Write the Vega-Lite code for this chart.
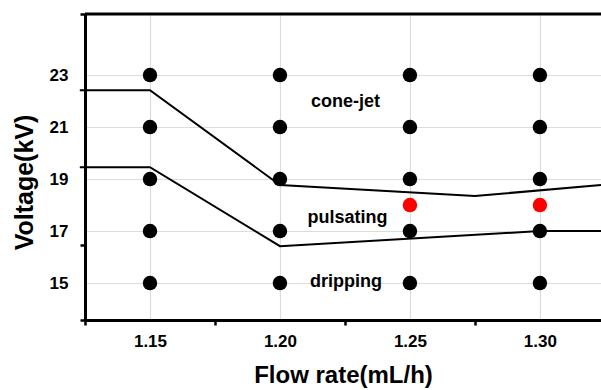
{
  "$schema": "https://vega.github.io/schema/vega-lite/v6.json",
  "width": 516,
  "height": 306,
  "autosize": {"type": "none"},
  "padding": {"left": 85, "top": 14, "right": 0, "bottom": 70},
  "background": "white",
  "config": {
    "view": {"stroke": null},
    "font": "Liberation Sans",
    "axis": {
      "domainColor": "black",
      "domainWidth": 3,
      "tickColor": "black",
      "labelFont": "Liberation Sans",
      "labelFontWeight": "bold",
      "labelFontSize": 17,
      "labelColor": "black",
      "titleFont": "Liberation Sans",
      "titleFontWeight": "bold",
      "titleColor": "black",
      "gridColor": "#dcdcdc",
      "gridWidth": 1.2
    }
  },
  "datasets": {
    "pts": [
      {"flow": 1.15, "voltage": 15, "kind": "black"},
      {"flow": 1.15, "voltage": 17, "kind": "black"},
      {"flow": 1.15, "voltage": 19, "kind": "black"},
      {"flow": 1.15, "voltage": 21, "kind": "black"},
      {"flow": 1.15, "voltage": 23, "kind": "black"},
      {"flow": 1.2, "voltage": 15, "kind": "black"},
      {"flow": 1.2, "voltage": 17, "kind": "black"},
      {"flow": 1.2, "voltage": 19, "kind": "black"},
      {"flow": 1.2, "voltage": 21, "kind": "black"},
      {"flow": 1.2, "voltage": 23, "kind": "black"},
      {"flow": 1.25, "voltage": 15, "kind": "black"},
      {"flow": 1.25, "voltage": 17, "kind": "black"},
      {"flow": 1.25, "voltage": 19, "kind": "black"},
      {"flow": 1.25, "voltage": 21, "kind": "black"},
      {"flow": 1.25, "voltage": 23, "kind": "black"},
      {"flow": 1.3, "voltage": 15, "kind": "black"},
      {"flow": 1.3, "voltage": 17, "kind": "black"},
      {"flow": 1.3, "voltage": 19, "kind": "black"},
      {"flow": 1.3, "voltage": 21, "kind": "black"},
      {"flow": 1.3, "voltage": 23, "kind": "black"},
      {"flow": 1.25, "voltage": 18, "kind": "red"},
      {"flow": 1.3, "voltage": 18, "kind": "red"}
    ],
    "bounds": [
      {"series": "upper", "order": 1, "flow": 1.123, "voltage": 22.42},
      {"series": "upper", "order": 2, "flow": 1.15, "voltage": 22.42},
      {"series": "upper", "order": 3, "flow": 1.2, "voltage": 18.77},
      {"series": "upper", "order": 4, "flow": 1.275, "voltage": 18.35},
      {"series": "upper", "order": 5, "flow": 1.3235, "voltage": 18.77},
      {"series": "lower", "order": 1, "flow": 1.123, "voltage": 19.46},
      {"series": "lower", "order": 2, "flow": 1.15, "voltage": 19.46},
      {"series": "lower", "order": 3, "flow": 1.2, "voltage": 16.42},
      {"series": "lower", "order": 4, "flow": 1.3, "voltage": 17.0},
      {"series": "lower", "order": 5, "flow": 1.3235, "voltage": 17.0}
    ],
    "labels": [
      {"flow": 1.2252, "voltage": 21.77, "text": "cone-jet"},
      {"flow": 1.226, "voltage": 17.31, "text": "pulsating"},
      {"flow": 1.2254, "voltage": 14.85, "text": "dripping"}
    ],
    "top": [{"voltage": 25.35}]
  },
  "layer": [
    {
      "data": {"name": "bounds"},
      "mark": {"type": "line", "color": "black", "strokeWidth": 2, "clip": false},
      "encoding": {
        "x": {
          "field": "flow",
          "type": "quantitative",
          "scale": {"domain": [1.125, 1.3235], "nice": false, "zero": false},
          "axis": {
            "values": [1.125, 1.15, 1.175, 1.2, 1.225, 1.25, 1.275, 1.3],
            "labelExpr": "round(datum.value*1000)%50==0 ? format(datum.value,'.2f') : ''",
            "tickSize": 5,
            "tickWidth": 2.5,
            "tickOpacity": {"condition": {"test": "round(datum.value*1000)%50==0", "value": 0}, "value": 1},
            "gridOpacity": {"condition": {"test": "round(datum.value*1000)%50==0", "value": 1}, "value": 0},
            "labelPadding": 8,
            "title": "Flow rate(mL/h)",
            "titleFontSize": 24,
            "titlePadding": 14
          }
        },
        "y": {
          "field": "voltage",
          "type": "quantitative",
          "scale": {"domain": [13.58, 25.35], "nice": false, "zero": false},
          "axis": {
            "values": [13.58, 15, 16.46, 17, 19, 21, 23, 25.35],
            "labelExpr": "datum.value % 2 == 1 ? format(datum.value,'d') : ''",
            "tickSize": 5,
            "tickWidth": 2.5,
            "tickOpacity": {"condition": {"test": "datum.value % 2 == 1", "value": 0}, "value": 1},
            "gridOpacity": {"condition": {"test": "datum.value % 2 == 1", "value": 1}, "value": 0},
            "labelPadding": 12,
            "title": "Voltage(kV)",
            "titleFontSize": 25,
            "titlePadding": 12,
            "titleY": 168
          }
        },
        "detail": {"field": "series"},
        "order": {"field": "order"}
      }
    },
    {
      "data": {"name": "top"},
      "mark": {"type": "rule", "color": "black", "strokeWidth": 3, "clip": false},
      "encoding": {"y": {"field": "voltage", "type": "quantitative"}}
    },
    {
      "data": {"name": "pts"},
      "mark": {"type": "point", "filled": true, "opacity": 1, "size": 210},
      "encoding": {
        "x": {"field": "flow", "type": "quantitative"},
        "y": {"field": "voltage", "type": "quantitative"},
        "color": {"field": "kind", "type": "nominal", "scale": {"domain": ["black", "red"], "range": ["#000000", "#ff0000"]}, "legend": null}
      }
    },
    {
      "data": {"name": "labels"},
      "mark": {"type": "text", "font": "Liberation Sans", "fontWeight": "bold", "fontSize": 18, "align": "center", "baseline": "alphabetic", "color": "black"},
      "encoding": {
        "x": {"field": "flow", "type": "quantitative"},
        "y": {"field": "voltage", "type": "quantitative"},
        "text": {"field": "text"}
      }
    }
  ]
}
